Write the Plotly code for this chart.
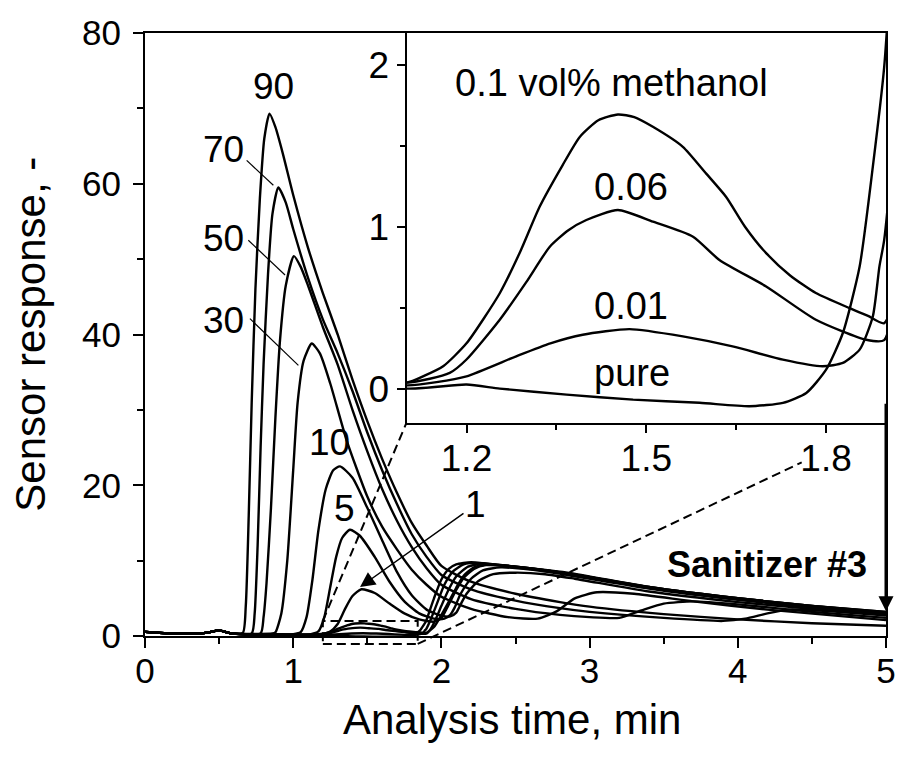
import plotly.graph_objects as go

FONT = "Liberation Sans, Arial, sans-serif"

# main axes ranges and inset placement
x_range = [0, 5]
y_range = [0, 80]
inset_x_range = [1.1, 1.9]
inset_y_range = [-0.21, 2.2]
inset_x_dom = [0.353, 1.0]
inset_y_dom = [0.354, 1.0]

# shared baseline before the methanol peak
base_t = [0, 0.15, 0.3, 0.42, 0.5, 0.58]
base_r = [0.55, 0.35, 0.3, 0.45, 0.75, 0.35]
lead_t = base_t + [0.9]
lead_r = base_r + [0.15]

t_90 = base_t + [0.66, 0.68, 0.70, 0.72, 0.745, 0.775, 0.805, 0.84, 0.88, 0.93,
                 1.0, 1.1, 1.2, 1.3, 1.4, 1.5, 1.6, 1.7, 1.8, 1.9,
                 2.0, 2.2, 2.5, 2.8, 3.0, 3.5, 4.0, 4.5, 5.0]
r_90 = base_r + [0.4, 4, 16, 31, 46, 58, 66, 69.3, 67.5, 64,
                 58.5, 51.5, 45.5, 40, 34, 28.5, 23.5, 19, 15, 12,
                 9.3, 7.2, 5.6, 4.5, 3.9, 2.9, 2.2, 1.7, 1.35]

t_70 = base_t + [0.72, 0.74, 0.76, 0.78, 0.80, 0.83, 0.86, 0.90, 0.95,
                 1.0, 1.1, 1.2, 1.3, 1.4, 1.5, 1.6, 1.7, 1.8, 1.9,
                 2.0, 2.2, 2.5, 2.8, 3.0, 3.5, 3.9, 4.05, 4.2, 4.35, 4.6, 5.0]
r_70 = base_r + [0.35, 3, 12, 25, 36, 48, 56, 59.5, 57.5,
                 54, 47.5, 42, 37.5, 32.5, 27, 22, 17.5, 13.5, 10.5,
                 8.1, 6.2, 4.7, 3.7, 3.2, 2.4, 2.0, 2.3, 3.0, 3.5, 3.3, 2.7]

t_50 = base_t + [0.78, 0.80, 0.82, 0.85, 0.88, 0.91, 0.95, 1.005, 1.05,
                 1.1, 1.2, 1.3, 1.4, 1.5, 1.6, 1.7, 1.8, 1.9, 2.0,
                 2.2, 2.5, 2.8, 3.0, 3.2, 3.35, 3.5, 3.7, 4.0, 4.5, 5.0]
r_50 = base_r + [0.35, 2.5, 7, 17, 29, 39, 46.5, 50.4, 49,
                 46.5, 41, 36, 30, 24.5, 19.5, 15.3, 11.8, 9, 6.8,
                 4.9, 3.6, 2.8, 2.5, 2.4, 3.4, 4.3, 4.6, 4.2, 3.2, 2.4]

t_30 = base_t + [0.86, 0.88, 0.92, 0.96, 1.0, 1.03, 1.07, 1.125, 1.18, 1.25,
                 1.36, 1.5, 1.6, 1.7, 1.8, 1.9, 2.0, 2.2, 2.45, 2.65,
                 2.78, 2.9, 3.05, 3.3, 3.7, 4.2, 5.0]
r_30 = base_r + [0.35, 0.5, 3, 10, 22, 31, 36.5, 38.8, 37.5, 33.5,
                 26, 18.5, 14.5, 11.5, 8.8, 6.8, 5.2, 3.6, 2.5, 2.3,
                 3.3, 5.0, 5.8, 5.6, 4.6, 3.5, 2.1]

t_10 = base_t + [0.9, 1.0, 1.05, 1.09, 1.13, 1.17, 1.22, 1.27, 1.316, 1.4,
                 1.5, 1.6, 1.7, 1.8, 1.9, 2.0, 2.06, 2.1, 2.13, 2.17,
                 2.25, 2.35, 2.5, 2.7, 2.9, 3.4, 4.0, 4.5, 5.0]
r_10 = base_r + [0.2, 0.25, 0.5, 2.5, 7.5, 14, 19.5, 22, 22.5, 21,
                 17, 12.7, 8.5, 5.4, 3.5, 2.7, 2.6, 3.1, 4.2, 5.6,
                 7.3, 8.2, 8.4, 8.2, 7.6, 5.9, 4.5, 3.6, 2.8]

t_5 = base_t + [1.0, 1.12, 1.17, 1.21, 1.25, 1.29, 1.33, 1.383, 1.45, 1.55,
                1.65, 1.75, 1.85, 1.95, 2.02, 2.06, 2.09, 2.13, 2.2, 2.28,
                2.4, 2.6, 2.85, 3.4, 4.0, 4.5, 5.0]
r_5 = base_r + [0.2, 0.25, 0.6, 2.5, 6.5, 10.5, 13.0, 14.1, 13.3, 10.5,
                7.2, 4.6, 3.0, 2.3, 2.3, 2.8, 3.8, 5.6, 7.6, 8.7,
                9.1, 8.8, 8.1, 6.3, 4.8, 3.8, 3.0]

t_1 = base_t + [1.0, 1.2, 1.25, 1.3, 1.35, 1.4, 1.46, 1.55, 1.65, 1.75,
                1.85, 1.95, 2.0, 2.04, 2.1, 2.15, 2.22, 2.3, 2.45, 2.85,
                3.4, 4.0, 4.5, 5.0]
r_1 = base_r + [0.2, 0.3, 0.6, 1.6, 3.6, 5.3, 6.2, 5.7, 4.3, 3.0,
                2.2, 1.9, 2.4, 3.8, 6.1, 7.7, 8.9, 9.4, 9.3, 8.3,
                6.5, 5.0, 4.0, 3.1]

t_01 = lead_t + [1.1, 1.13, 1.161, 1.2, 1.2555, 1.29, 1.322, 1.36, 1.389, 1.42,
                 1.4527, 1.48, 1.511, 1.561, 1.6, 1.633, 1.665, 1.7, 1.74, 1.783,
                 1.839, 1.87, 1.897, 1.95, 2.0, 2.04, 2.1, 2.15, 2.22, 2.32,
                 2.5, 2.85, 3.4, 4.0, 4.5, 5.0]
r_01 = lead_r + [0.037, 0.08, 0.138, 0.28, 0.59, 0.85, 1.125, 1.38, 1.557, 1.66,
                 1.696, 1.68, 1.62, 1.496, 1.33, 1.187, 1.0, 0.838, 0.7, 0.591,
                 0.498, 0.45, 0.405, 1.2, 2.8, 4.2, 6.4, 8.0, 9.1, 9.5,
                 9.2, 8.4, 6.5, 5.0, 4.0, 3.2]

t_006 = lead_t + [1.1, 1.172, 1.2, 1.2555, 1.3, 1.339, 1.37, 1.4, 1.4527, 1.511,
                  1.578, 1.622, 1.7, 1.783, 1.867, 1.897, 1.93, 1.97, 2.0, 2.05,
                  2.1, 2.18, 2.28, 2.5, 2.85, 3.4, 4.0, 4.5, 5.0]
r_006 = lead_r + [0.037, 0.097, 0.18, 0.426, 0.66, 0.878, 0.98, 1.043, 1.105, 1.033,
                  0.94, 0.796, 0.632, 0.426, 0.302, 0.30, 1.0, 2.6, 4.0, 6.2,
                  7.9, 9.2, 9.6, 9.2, 8.3, 6.4, 4.9, 3.9, 3.1]

t_001 = lead_t + [1.1, 1.15, 1.2, 1.283, 1.34, 1.394, 1.472, 1.561, 1.644, 1.728,
                  1.794, 1.828, 1.856, 1.878, 1.889, 1.897, 1.93, 1.97, 2.02, 2.08,
                  2.15, 2.25, 2.4, 2.85, 3.4, 4.0, 4.5, 5.0]
r_001 = lead_r + [0.02, 0.04, 0.076, 0.2, 0.28, 0.333, 0.368, 0.323, 0.261, 0.179,
                  0.138, 0.159, 0.241, 0.446, 0.755, 0.92, 2.3, 4.3, 6.8, 8.6,
                  9.5, 9.7, 9.4, 8.3, 6.4, 4.9, 3.9, 3.0]

t_pure = lead_t + [1.1, 1.2, 1.2555, 1.367, 1.478, 1.589, 1.672, 1.728, 1.767, 1.8,
                   1.828, 1.856, 1.878, 1.897, 1.92, 1.95, 2.0, 2.05, 2.1, 2.2,
                   2.3, 2.5, 2.85, 3.4, 4.0, 4.5, 5.0]
r_pure = lead_r + [0.0, 0.025, 0.0, -0.037, -0.068, -0.088, -0.109, -0.088, -0.027, 0.117,
                   0.344, 0.755, 1.372, 1.99, 3.3, 5.0, 7.5, 8.9, 9.5, 9.8,
                   9.6, 9.1, 8.3, 6.5, 5.0, 4.0, 3.2]

main_curves = [(t_90, r_90), (t_70, r_70), (t_50, r_50), (t_30, r_30),
               (t_10, r_10), (t_5, r_5), (t_1, r_1),
               (t_01, r_01), (t_006, r_006), (t_001, r_001), (t_pure, r_pure)]
inset_curves = [(t_01, r_01), (t_006, r_006), (t_001, r_001), (t_pure, r_pure)]

# curve labels: (text, x, y)
main_labels = [("90", 0.864, 72.9), ("70", 0.533, 64.5), ("50", 0.533, 52.7),
               ("30", 0.533, 41.9), ("10", 1.242, 25.7), ("5", 1.343, 16.9)]
# leader lines from label to curve: (x0, y0, x1, y1)
leaders = [(0.686, 63.1, 0.866, 59.8), (0.697, 52.5, 0.945, 47.9),
           (0.708, 42.1, 1.035, 35.9)]
inset_labels = [("0.1 vol% methanol", 1.442, 1.892), ("0.06", 1.474, 1.249),
                ("0.01", 1.474, 0.508), ("pure", 1.476, 0.099)]

# zoom rectangle on the main axes (data units)
zoom_x = [1.2, 1.84]
zoom_y = [-1.05, 2.0]


def to_paper(x, y):
    return ((x - x_range[0]) / (x_range[1] - x_range[0]),
            (y - y_range[0]) / (y_range[1] - y_range[0]))


fig = go.Figure()
line = dict(color="black", width=2.4, shape="spline", smoothing=0.6)
for t, r in main_curves:
    fig.add_trace(go.Scatter(x=t, y=r, mode="lines", line=line,
                             xaxis="x", yaxis="y", hoverinfo="skip"))
for t, r in inset_curves:
    fig.add_trace(go.Scatter(x=t, y=r, mode="lines", line=line,
                             xaxis="x2", yaxis="y2", hoverinfo="skip"))

axis_common = dict(showline=True, linewidth=2, linecolor="black", mirror=True,
                   showgrid=False, zeroline=False, ticks="outside",
                   tickwidth=2, tickcolor="black", automargin=False,
                   tickfont=dict(family=FONT, size=35, color="black"))

shapes = []
rx0, ry0 = to_paper(zoom_x[0], zoom_y[0])
rx1, ry1 = to_paper(zoom_x[1], zoom_y[1])
dash = dict(color="black", width=2, dash="9px,5px")
shapes.append(dict(type="rect", xref="paper", yref="paper", x0=rx0, y0=ry0,
                   x1=rx1, y1=ry1, line=dash))
shapes.append(dict(type="line", xref="paper", yref="paper", x0=rx0, y0=ry1,
                   x1=inset_x_dom[0], y1=inset_y_dom[0], line=dash))
f = 0.82
shapes.append(dict(type="line", xref="paper", yref="paper", x0=rx1, y0=ry0,
                   x1=rx1 + f * (inset_x_dom[1] - rx1),
                   y1=ry0 + f * (inset_y_dom[0] - ry0), line=dash))
for x0, y0, x1, y1 in leaders:
    shapes.append(dict(type="line", xref="x", yref="y", x0=x0, y0=y0,
                       x1=x1, y1=y1, line=dict(color="black", width=1.2)))

ann = []
for text, x, y in main_labels:
    ann.append(dict(text=text, x=x, y=y, xref="x", yref="y", showarrow=False,
                    font=dict(family=FONT, size=37, color="black")))
for text, x, y in inset_labels:
    ann.append(dict(text=text, x=x, y=y, xref="x2", yref="y2", showarrow=False,
                    font=dict(family=FONT, size=38, color="black")))
ann.append(dict(text="1", x=1.451, y=6.5, ax=2.23, ay=17.4, xref="x", yref="y",
                axref="x", ayref="y", showarrow=True, arrowhead=2, arrowsize=2,
                arrowwidth=1.5, arrowcolor="black",
                font=dict(family=FONT, size=37, color="black")))
ann.append(dict(text="", x=5, y=3.3, ax=5, ay=31, xref="x", yref="y",
                axref="x", ayref="y", showarrow=True, arrowhead=2, arrowsize=1,
                arrowwidth=3, arrowcolor="black"))
ann.append(dict(text="<b>Sanitizer #3</b>", x=4.2, y=9.55, xref="x", yref="y",
                showarrow=False, font=dict(family=FONT, size=36, color="black")))
ann.append(dict(text="Analysis time, min", x=0.495, y=-0.139, xref="paper",
                yref="paper", xanchor="center", yanchor="middle", showarrow=False,
                font=dict(family=FONT, size=42, color="black")))
ann.append(dict(text="Sensor response, -", x=-0.155, y=0.5, xref="paper",
                yref="paper", xanchor="center", yanchor="middle", showarrow=False,
                textangle=-90, font=dict(family=FONT, size=42, color="black")))

fig.update_layout(
    width=898, height=757,
    margin=dict(l=145, r=12, t=33, b=121),
    paper_bgcolor="white", plot_bgcolor="white",
    showlegend=False,
    xaxis=dict(axis_common, domain=[0, 1], range=x_range, tickvals=[0, 1, 2, 3, 4, 5],
               ticklen=10, ticklabelstandoff=-7,
               minor=dict(ticks="outside", ticklen=6, tickwidth=2,
                          tickcolor="black", dtick=0.5)),
    yaxis=dict(axis_common, domain=[0, 1], range=y_range, tickvals=[0, 20, 40, 60, 80],
               ticklen=10, ticklabelstandoff=5,
               minor=dict(ticks="outside", ticklen=6, tickwidth=2,
                          tickcolor="black", dtick=10)),
    xaxis2=dict(axis_common, domain=inset_x_dom, anchor="y2", range=inset_x_range,
                tickvals=[1.2, 1.5, 1.8], ticklen=8, ticklabelstandoff=-6,
                tickfont=dict(family=FONT, size=37, color="black"),
                minor=dict(ticks="outside", ticklen=5, tickwidth=2,
                           tickcolor="black", tickvals=[1.35, 1.65])),
    yaxis2=dict(axis_common, domain=inset_y_dom, anchor="x2", range=inset_y_range,
                tickvals=[0, 1, 2], ticklen=8,
                tickfont=dict(family=FONT, size=37, color="black"),
                minor=dict(ticks="outside", ticklen=5, tickwidth=2,
                           tickcolor="black", tickvals=[0.5, 1.5])),
    shapes=shapes,
    annotations=ann,
)

# the page's default body margin would shift the figure by 8 px
fig.write_html("out.html", config={"displayModeBar": False},
               post_script="document.body.style.margin = '0';")
